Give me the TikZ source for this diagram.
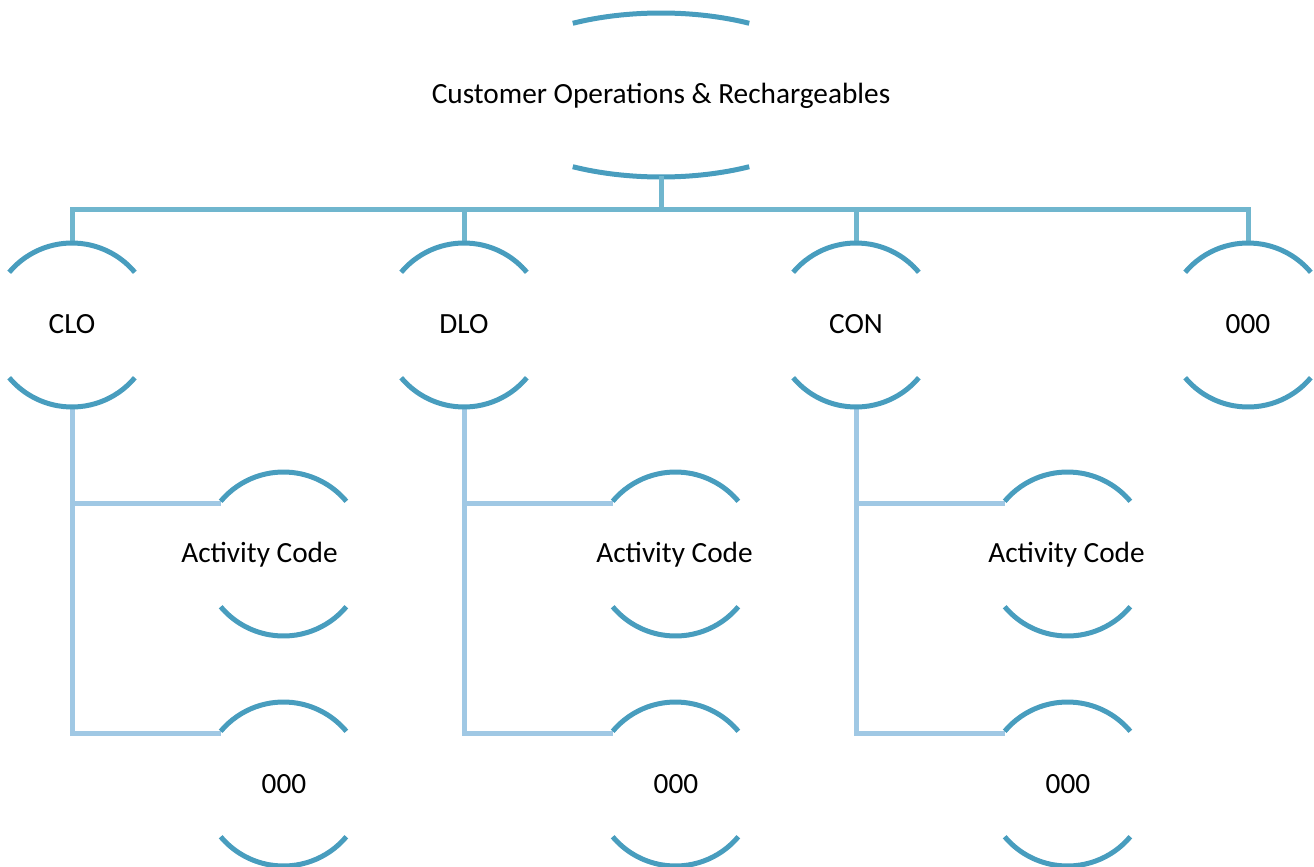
\documentclass[tikz,border=0pt]{standalone}
\usepackage{fontspec}
\setmainfont{Carlito}
\definecolor{arcc}{RGB}{72,157,190}
\definecolor{topc}{RGB}{112,182,206}
\definecolor{lowc}{RGB}{160,200,228}
\begin{document}
\begin{tikzpicture}[x=1pt,y=-1pt,
  arcline/.style={draw=arcc,line width=5pt},
  conn/.style={draw=topc,line width=5pt},
  lowconn/.style={draw=lowc,line width=5pt},
  lbl/.style={font=\fontsize{29.3}{34}\selectfont,inner sep=0pt,anchor=base},
  ring/.style={circle,minimum size=164pt,inner sep=0pt}]
\useasboundingbox (0,0) rectangle (1314,867);
\newcommand\bubarcs[1]{%
  \draw[arcline] ([shift={(220:82)}]#1.center) arc[start angle=220,end angle=320,radius=82];
  \draw[arcline] ([shift={(40:82)}]#1.center) arc[start angle=40,end angle=140,radius=82];}
% top node
\coordinate (topC) at (661,95);
\node[lbl] (top) at (661,103) {Customer Operations \& Rechargeables};
\draw[arcline] ([shift={(241:182 and 82)}]topC) arc[start angle=241,end angle=299,x radius=182,y radius=82];
\draw[arcline] ([shift={(61:182 and 82)}]topC) arc[start angle=61,end angle=119,x radius=182,y radius=82];
\coordinate (topbot) at (661,176);
\coordinate (bus) at (661,209);
% level 2 rings
\node[ring] (cloC) at (72,325) {};
\node[ring] (dloC) at (464,325) {};
\node[ring] (conC) at (856,325) {};
\node[ring] (z4C) at (1248,325) {};
\node[lbl] (clo) at (72,333) {CLO};
\node[lbl] (dlo) at (464,333) {DLO};
\node[lbl] (con) at (856,333) {CON};
\node[lbl] (z4) at (1248,333) {000};
% level 3 rings
\node[ring] (ac1C) at (283.5,554) {};
\node[ring] (ac2C) at (675.5,554) {};
\node[ring] (ac3C) at (1067.5,554) {};
\node[ring] (z1C) at (283.5,784) {};
\node[ring] (z2C) at (675.5,784) {};
\node[ring] (z3C) at (1067.5,784) {};
\node[lbl] (ac1) at (259.5,562) {Activity Code};
\node[lbl] (ac2) at (674.5,562) {Activity Code};
\node[lbl] (ac3) at (1066.5,562) {Activity Code};
\node[lbl] (z1) at (284,793) {000};
\node[lbl] (z2) at (676,793) {000};
\node[lbl] (z3) at (1068,793) {000};
% connectors top level
\draw[conn] (topbot) -- (bus);
\draw[conn] (cloC.north) |- (bus) -| (z4C.north);
\draw[conn] (dloC.north) -- (dloC.north |- bus);
\draw[conn] (conC.north) -- (conC.north |- bus);
% connectors lower level
\draw[lowconn] (cloC.south) |- ([yshift=-2.5pt]ac1C.140);
\draw[lowconn] (cloC.south) |- ([yshift=-2.5pt]z1C.140);
\draw[lowconn] (dloC.south) |- ([yshift=-2.5pt]ac2C.140);
\draw[lowconn] (dloC.south) |- ([yshift=-2.5pt]z2C.140);
\draw[lowconn] (conC.south) |- ([yshift=-2.5pt]ac3C.140);
\draw[lowconn] (conC.south) |- ([yshift=-2.5pt]z3C.140);
% arcs
\bubarcs{cloC}\bubarcs{dloC}\bubarcs{conC}\bubarcs{z4C}
\bubarcs{ac1C}\bubarcs{ac2C}\bubarcs{ac3C}
\bubarcs{z1C}\bubarcs{z2C}\bubarcs{z3C}
\end{tikzpicture}
\end{document}
